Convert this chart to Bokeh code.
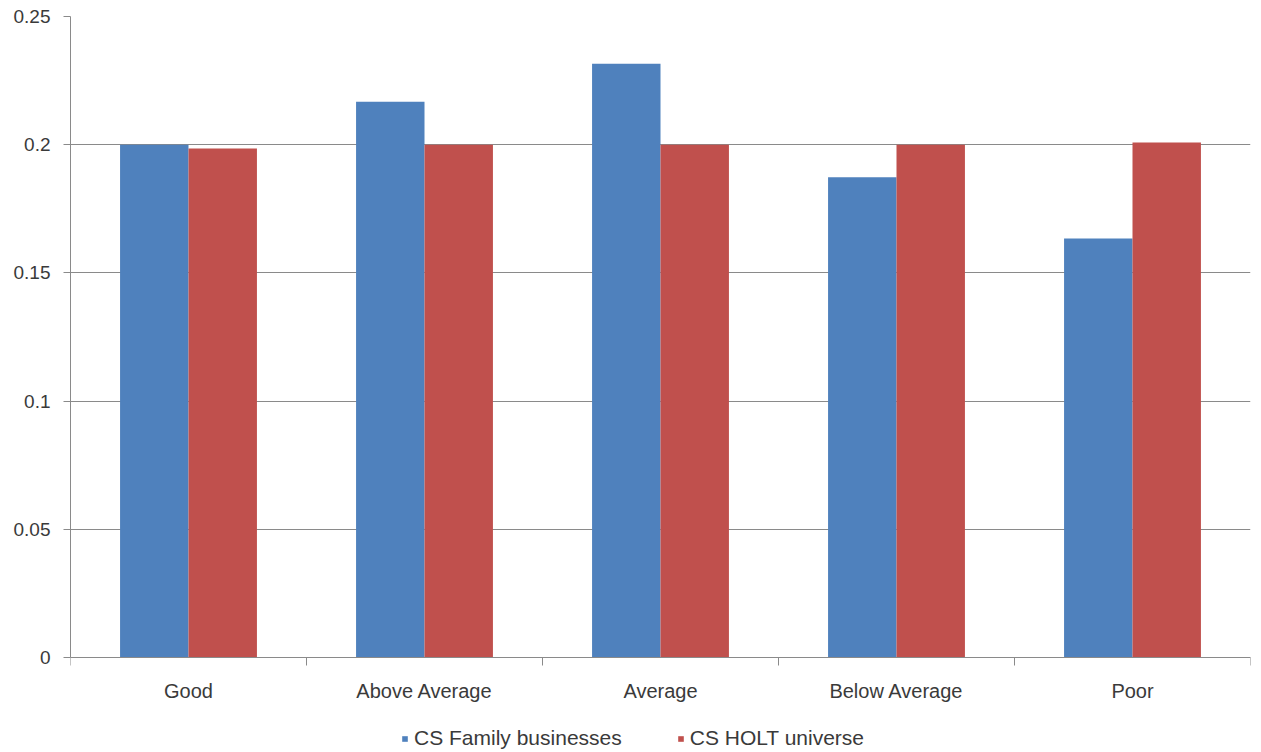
from bokeh.plotting import figure
from bokeh.models import (ColumnDataSource, Range1d, FixedTicker, Legend, LegendItem)
from bokeh.embed import file_html
from bokeh.resources import INLINE

# Share of companies in each quality bucket
categories = ["Good", "Above Average", "Average", "Below Average", "Poor"]
family_businesses = [0.200, 0.2168, 0.2316, 0.1873, 0.1634]
holt_universe = [0.1985, 0.2000, 0.2000, 0.2000, 0.2009]

y_ticks = [0, 0.05, 0.1, 0.15, 0.2, 0.25]
y_labels = ["0", "0.05", "0.1", "0.15", "0.2", "0.25"]

BLUE = "#4F81BD"
RED = "#C0504D"
GREY = "#8a8a8a"
TEXT = "#3a3a3a"
FONT = "Liberation Sans"

centers = [i + 0.5 for i in range(len(categories))]
source = ColumnDataSource(dict(
    x_family=[c - 0.145 for c in centers],
    x_holt=[c + 0.145 for c in centers],
    family=family_businesses,
    holt=holt_universe,
))

# The frame runs to the bottom of the canvas; the x axis is pinned at y=0 and
# the space underneath it holds the category labels and the legend.
p = figure(width=1261, height=752, output_backend="svg", toolbar_location=None,
           x_range=Range1d(0, len(categories)), y_range=Range1d(-0.03705, 0.25),
           min_border_left=70, min_border_right=11, min_border_top=16,
           min_border_bottom=0)
p.outline_line_color = None
p.background_fill_color = "white"
p.border_fill_color = "white"

r_family = p.vbar(x="x_family", top="family", width=0.29, source=source,
                  fill_color=BLUE, line_color=None)
r_holt = p.vbar(x="x_holt", top="holt", width=0.29, source=source,
                fill_color=RED, line_color=None)

# y axis
p.yaxis.ticker = FixedTicker(ticks=y_ticks)
p.yaxis.major_label_overrides = {t: l for t, l in zip(y_ticks, y_labels)}
p.yaxis.bounds = (0, 0.25)
p.yaxis.axis_line_color = GREY
p.yaxis.major_tick_line_color = GREY
p.yaxis.major_tick_out = 7
p.yaxis.major_tick_in = 0
p.yaxis.minor_tick_line_color = None
p.yaxis.major_label_standoff = 13
p.yaxis.major_label_text_font = FONT
p.yaxis.major_label_text_font_size = "19px"
p.yaxis.major_label_text_color = TEXT

# x axis: labels at category centres, tick marks at category boundaries
p.xaxis.fixed_location = 0
p.xaxis.ticker = FixedTicker(ticks=centers,
                             minor_ticks=list(range(len(categories) + 1)))
p.xaxis.major_label_overrides = {c: name for c, name in zip(centers, categories)}
p.xaxis.axis_line_color = GREY
p.xaxis.major_tick_line_color = None
p.xaxis.major_tick_out = 8
p.xaxis.major_tick_in = 0
p.xaxis.minor_tick_line_color = GREY
p.xaxis.minor_tick_out = 8
p.xaxis.minor_tick_in = 0
p.xaxis.major_label_standoff = 14
p.xaxis.major_label_text_font = FONT
p.xaxis.major_label_text_font_size = "20px"
p.xaxis.major_label_text_color = TEXT

p.xgrid.grid_line_color = None
p.ygrid.grid_line_color = GREY
p.ygrid.grid_line_width = 1

legend = Legend(items=[LegendItem(label="CS Family businesses", renderers=[r_family]),
                       LegendItem(label="CS HOLT universe", renderers=[r_holt])],
                orientation="horizontal", location=(331, 2),
                glyph_width=7, glyph_height=7, label_standoff=6, spacing=55,
                label_text_font=FONT, label_text_font_size="21px",
                label_text_color=TEXT, label_height=20,
                border_line_color=None, background_fill_alpha=0,
                margin=0, padding=4)
p.add_layout(legend, "center")

open("out.html", "w").write(file_html(p, INLINE))
